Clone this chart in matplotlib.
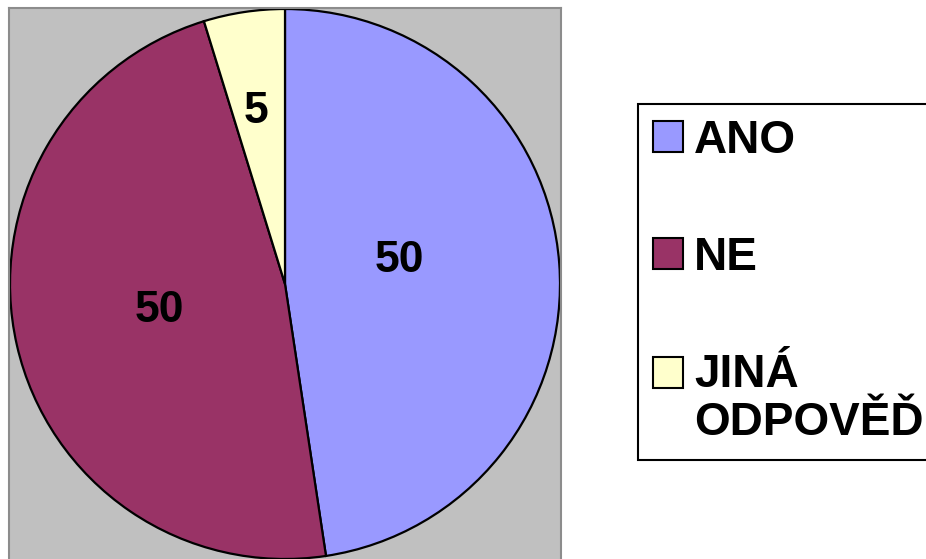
import matplotlib.pyplot as plt
import numpy as np
from matplotlib.patches import Patch, Rectangle
from matplotlib.legend_handler import HandlerPatch

# data
kategorie = ['ANO', 'NE', 'JINÁ\nODPOVĚĎ']
hodnoty = [50, 50, 5]
barvy = ['#9999FF', '#993366', '#FFFFCC']

# label placement (radius as fraction, angle in degrees)
popisky_pos = [(0.430, 13.7), (0.462, 190.0), (0.652, 99.3)]

W, H = 926, 559
fig = plt.figure(figsize=(W / 100, H / 100), dpi=100)
plt.rcParams['font.family'] = ['Liberation Sans', 'DejaVu Sans']

# plot area (pixels): x 9..561, y 8..562 ; pie centre (285,284), r=275
r_px = 275.0
cx, cy = 285.0, 284.0
x0, x1, y0, y1 = 9, 561, 8, 562
ax = fig.add_axes([x0 / W, 1 - y1 / H, (x1 - x0) / W, (y1 - y0) / H])

wedges, _ = ax.pie(hodnoty, colors=barvy, startangle=90, counterclock=False,
                   radius=1.0, wedgeprops=dict(edgecolor='black', linewidth=1.6))

for v, (rr, ang) in zip(hodnoty, popisky_pos):
    a = np.deg2rad(ang)
    ax.text(rr * np.cos(a), rr * np.sin(a), str(v), ha='center', va='center_baseline',
            fontsize=32, fontweight='bold', color='black')

ax.set_frame_on(True)
ax.set_facecolor('#C0C0C0')
ax.set_aspect('auto')
ax.set_xlim(-(cx - x0) / r_px, (x1 - cx) / r_px)
ax.set_ylim(-(y1 - cy) / r_px, (cy - y0) / r_px)
ax.set_xticks([])
ax.set_yticks([])
for s in ax.spines.values():
    s.set_visible(True)
    s.set_edgecolor('#8C8C8C')
    s.set_linewidth(1.5)

# legend
leg_fs = 33
posun = 28 * 72 / 100  # shift of handle for two-line label, px -> pt


def ctverec(legend, orig_handle, xdescent, ydescent, width, height, fontsize):
    n = orig_handle.get_label().count('\n')
    return Rectangle((-xdescent, -ydescent + n * posun), width, height)


handles = []
for c, k in zip(barvy, kategorie):
    handles.append(Patch(facecolor=c, edgecolor='black', linewidth=1.5, label=k))

leg = fig.legend(handles, kategorie, loc='upper left',
                 bbox_to_anchor=(638 / W, 1 - 104 / H),
                 prop=dict(family=['Liberation Sans', 'DejaVu Sans'], weight='bold', size=leg_fs),
                 frameon=True, fancybox=False, edgecolor='black', framealpha=1,
                 handlelength=0.66, handleheight=0.66, handletextpad=0.24,
                 labelspacing=1.6, borderpad=0.32, borderaxespad=0,
                 handler_map={Patch: HandlerPatch(patch_func=ctverec)})
leg.get_frame().set_linewidth(1.5)
for t in leg.get_texts():
    t.set_linespacing(1.12)

fig.savefig('out.png', dpi=100)
